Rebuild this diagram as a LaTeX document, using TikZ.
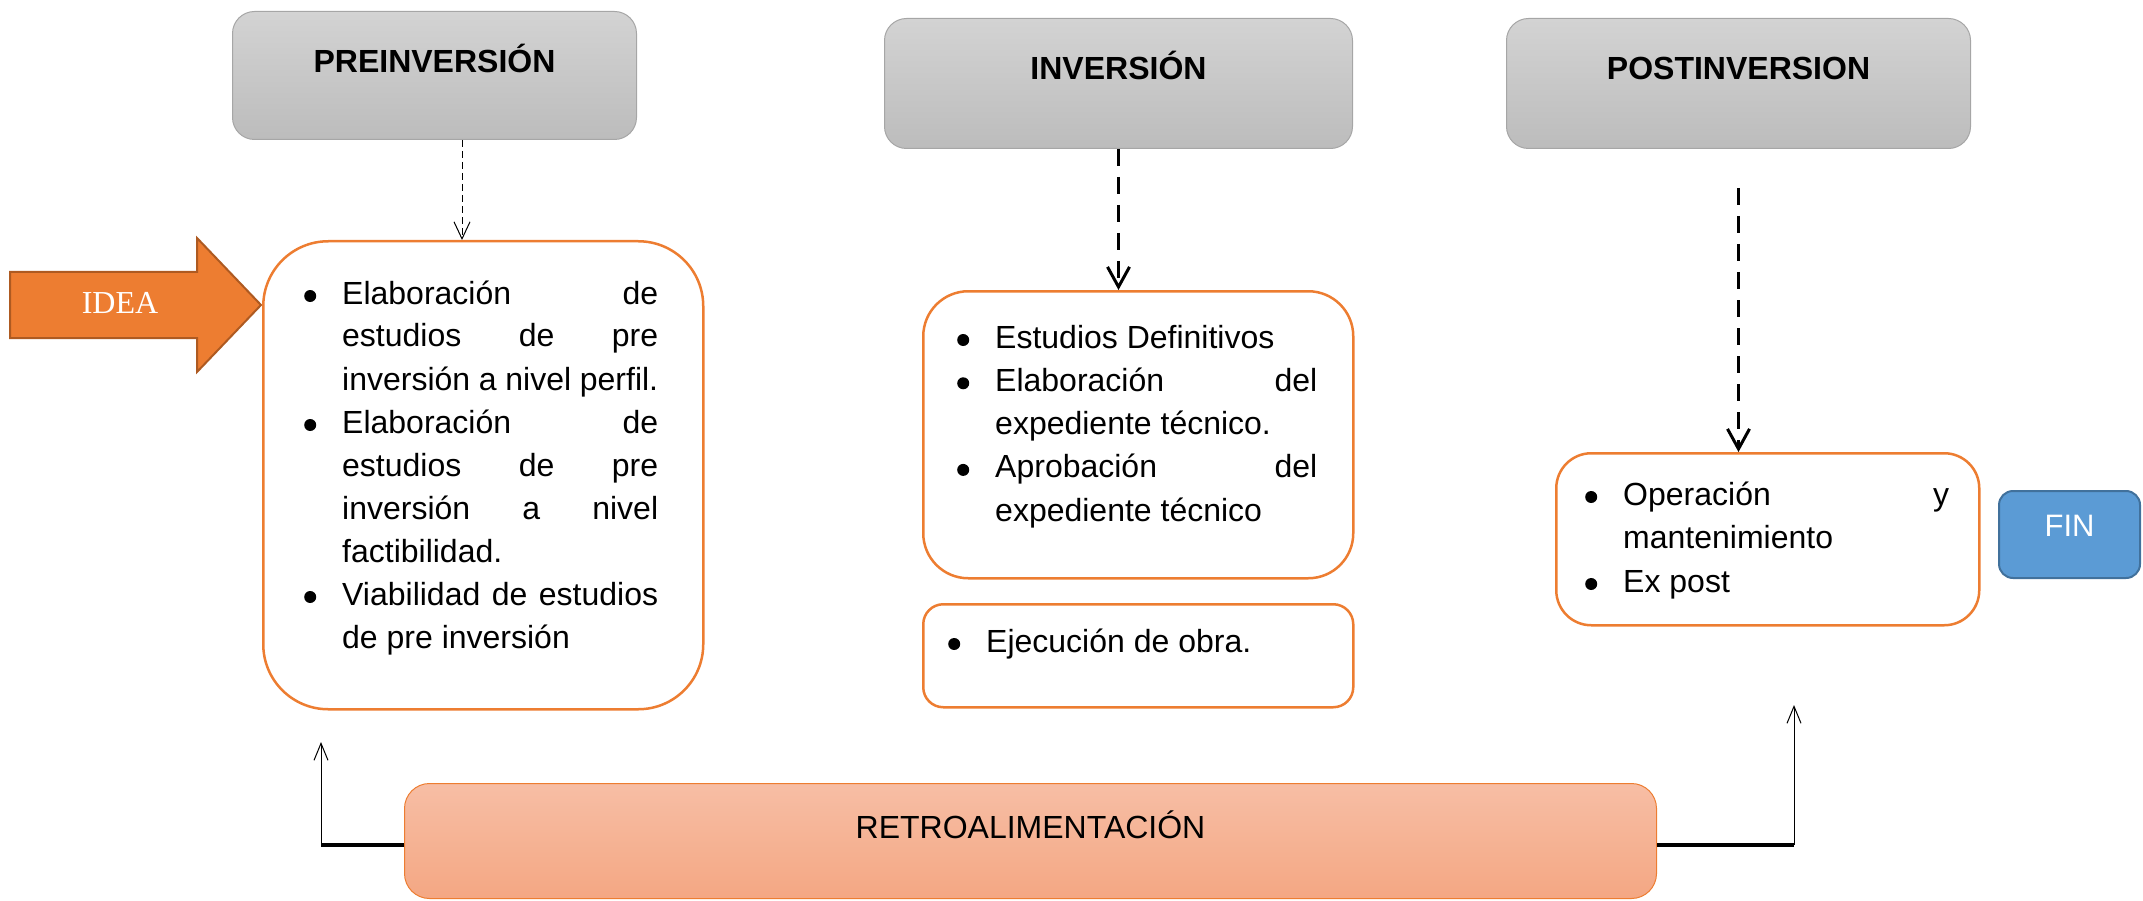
\documentclass[tikz,border=0pt]{standalone}
\usepackage{fontspec}
\setmainfont{Liberation Sans}
\newfontfamily\ideafont{Liberation Serif}
\usetikzlibrary{arrows.meta,calc}
\definecolor{orgA}{HTML}{ED7D31}
\definecolor{orgD}{HTML}{AE5A21}
\definecolor{grT}{HTML}{D3D3D3}
\definecolor{grB}{HTML}{BCBCBC}
\definecolor{grE}{HTML}{A6A6A6}
\definecolor{rtT}{HTML}{F7BEA5}
\definecolor{rtB}{HTML}{F4A783}
\definecolor{finF}{HTML}{5B9BD5}
\definecolor{finE}{HTML}{41719C}
\newcommand{\bul}{\leavevmode\llap{\tikz[baseline=0pt]\fill[black] (0pt,8pt) circle (6pt);\hspace{26pt}}}
\newcommand{\jline}[2]{\makebox[#1][s]{#2}}
\begin{document}
\begin{tikzpicture}[x=1pt,y=-1pt,
  phase/.style={draw=grE, line width=1pt, rounded corners=22pt, top color=grT, bottom color=grB, inner sep=0pt, anchor=north west, font=\fontsize{32}{38}\selectfont\bfseries},
  cbox/.style={draw=orgA, line width=2.5pt, fill=white, inner sep=0pt, anchor=north west},
  listtxt/.style={inner sep=0pt, anchor=base west, font=\fontsize{32}{43}\selectfont},
  thindash/.style={draw=black, line width=1pt, dash pattern=on 7pt off 4pt, -{Straight Barb[length=17pt,width=16pt]}},
  thickdash/.style={draw=black, line width=3pt, dash pattern=on 17pt off 11pt, -{Straight Barb[length=20pt,width=22pt]}},
  fbline/.style={draw=black, line width=4.5pt},
  fbarrow/.style={draw=black, line width=1pt, -{Straight Barb[length=17pt,width=14pt]}},
]
\useasboundingbox (0,0) rectangle (2143,901);

% phase headers
\node[phase, minimum width=404pt, text height=61pt, text depth=67pt] (pre) at (232,11) {PREINVERSIÓN};
\node[phase, minimum width=468pt, text height=61pt, text depth=69pt] (inv) at (884,18) {INVERSIÓN};
\node[phase, minimum width=464pt, text height=61pt, text depth=69pt] (post) at (1506,18) {POSTINVERSION};

% IDEA arrow
\fill[orgA, draw=orgD, line width=2pt] (10,272) -- (197,272) -- (197,238) -- (261,305) -- (197,372) -- (197,338) -- (10,338) -- cycle;
\node[text=white, inner sep=0pt, anchor=base, font=\ideafont\fontsize{32}{32}\selectfont] (idea) at (120,313) {IDEA};

% content boxes
\node[cbox, rounded corners=65pt, minimum width=440pt, minimum height=468pt] (preC) at (262,240) {};
\node[cbox, rounded corners=45pt, minimum width=430pt, minimum height=287pt] (invC) at (922,290) {};
\node[cbox, rounded corners=20pt, minimum width=430pt, minimum height=103pt] (ejeC) at (922,603) {};
\node[cbox, rounded corners=35pt, minimum width=423pt, minimum height=172pt] (postC) at (1555,452) {};

% texts
\node[listtxt] (preT) at (342,304) {\parbox[t]{316pt}{%
\bul\jline{316pt}{Elaboración de}\\
\jline{316pt}{estudios de pre}\\
inversión a nivel perfil.\\
\bul\jline{316pt}{Elaboración de}\\
\jline{316pt}{estudios de pre}\\
\jline{316pt}{inversión a nivel}\\
factibilidad.\\
\bul\jline{316pt}{Viabilidad de estudios}\\
de pre inversión}};

\node[listtxt, font=\fontsize{32}{43.3}\selectfont] (invT) at (995,348) {\parbox[t]{322pt}{%
\bul Estudios Definitivos\\
\bul\jline{322pt}{Elaboración del}\\
expediente técnico.\\
\bul\jline{322pt}{Aprobación del}\\
expediente técnico}};

\node[listtxt] (ejeT) at (986,652) {\parbox[t]{330pt}{\bul Ejecución de obra.}};

\node[listtxt, font=\fontsize{32}{43.5}\selectfont] (postT) at (1623,505) {\parbox[t]{326pt}{%
\bul\jline{326pt}{Operación y}\\
mantenimiento\\
\bul Ex post}};

% FIN
\node[draw=finE, line width=2pt, fill=finF, rounded corners=14pt, inner sep=0pt, anchor=north west, minimum width=141pt, text height=45pt, text depth=42pt, text=white, font=\fontsize{31}{31}\selectfont] (fin) at (1998,490) {FIN};

% retro
\node[draw=orgA, line width=1pt, rounded corners=25pt, top color=rtT, bottom color=rtB, inner sep=0pt, anchor=north west, minimum width=1252pt, text height=55pt, text depth=60pt, font=\fontsize{32}{38}\selectfont] (retro) at (404,783) {RETROALIMENTACIÓN};

% dashed arrows
\coordinate (a1) at (462,140);
\draw[thindash] (a1) -- (a1 |- preC.north);
\draw[thickdash] (inv.south) -- (inv.south |- invC.north);
\coordinate (a3) at ($(post.south)+(0,39)$);
\draw[thickdash] (a3) -- (a3 |- postC.north);

% feedback
\coordinate (fbL) at (321,845);
\coordinate (fbLt) at (321,742);
\coordinate (fbR) at (1794,845);
\coordinate (fbRt) at (1794,705);
\draw[fbline] (retro.west |- fbL) -- (fbL);
\draw[fbarrow] (fbL) -- (fbLt);
\draw[fbline] (retro.east |- fbR) -- (fbR);
\draw[fbarrow] (fbR) -- (fbRt);
\end{tikzpicture}
\end{document}
